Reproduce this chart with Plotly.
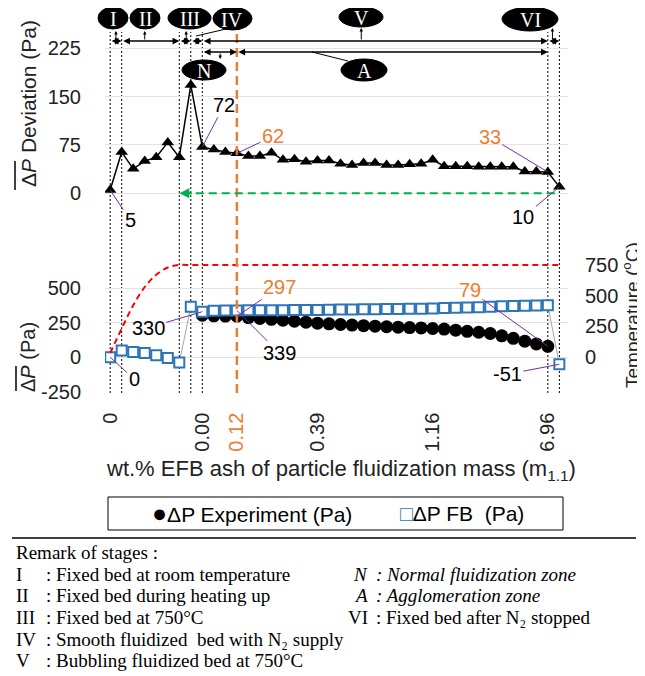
import plotly.graph_objects as go

# ---------------- data ----------------
idx = list(range(40))
tick_idx = [0, 8, 11, 18, 28, 38]
tick_txt = ["0", "0.00", "<span style='color:#ED7D31'>0.12</span>", "0.39", "1.16", "6.96"]

dev = [5, 64, 38, 50, 56, 79, 56, 168, 72, 68,
       64, 62, 58, 58, 63, 52, 53, 49, 51, 51,
       46, 44, 47, 47, 44, 44, 45, 46, 52, 42,
       42, 42, 41, 41, 41, 41, 34, 34, 33, 10]

fb = [0, 48, 38, 30, 15, -5, -39, 365, 330, 337,
      338, 339, 340, 340, 341, 341, 342, 342, 343, 344,
      345, 346, 347, 348, 349, 350, 351, 352, 354, 356,
      358, 360, 363, 366, 369, 371, 373, 375, 377, -51]

exp_idx = list(range(8, 39))
exp = [305, 300, 298, 297, 287, 281, 275, 268, 261, 254,
       247, 242, 237, 233, 229, 225, 221, 218, 215, 212,
       208, 204, 196, 188, 181, 172, 155, 137, 116, 96, 79]

temp = [30, 230, 420, 570, 670, 730] + [750] * 34

stage_bounds = [0, 1, 6, 7, 8, 38, 39]
orange_idx = 11

FONT = "Liberation Sans, Arial, sans-serif"
SERIF = "Liberation Serif, Times New Roman, serif"
OX, OY = 8, 8          # page body margin
W, H = 637, 668


def PX(x):
    return (x - OX) / W


def PY(y):
    return 1 - (y - OY) / H


fig = go.Figure()

fig.add_trace(go.Scatter(x=idx, y=dev, xaxis="x", yaxis="y", mode="lines+markers",
                         line=dict(color="black", width=1.5),
                         marker=dict(symbol="triangle-up", size=11, color="black"),
                         showlegend=False))
fig.add_trace(go.Scatter(x=exp_idx, y=exp, xaxis="x", yaxis="y2", mode="markers",
                         marker=dict(symbol="circle", size=13, color="black"),
                         name="ΔP Experiment (Pa)", showlegend=False))
fig.add_trace(go.Scatter(x=idx, y=fb, xaxis="x", yaxis="y2", mode="lines+markers",
                         line=dict(color="#A6A6A6", width=1),
                         marker=dict(symbol="square", size=10, color="white",
                                     line=dict(color="#2E75B6", width=2)),
                         name="ΔP FB (Pa)", showlegend=False))
fig.add_trace(go.Scatter(x=idx, y=temp, xaxis="x", yaxis="y3", mode="lines",
                         line=dict(color="#FF0000", width=2, dash="6px,4px", shape="spline"),
                         showlegend=False))

shapes = []
for b in stage_bounds:
    shapes.append(dict(type="line", xref="x", yref="paper", x0=b, x1=b,
                       y0=PY(393), y1=PY(32), line=dict(color="black", width=1, dash="2px,2px"),
                       layer="below"))
shapes.append(dict(type="line", xref="x", yref="paper", x0=orange_idx, x1=orange_idx,
                   y0=PY(393), y1=PY(32), line=dict(color="#ED7D31", width=2.5, dash="9px,5px")))
shapes.append(dict(type="line", xref="x", yref="y", x0=6.3, x1=39, y0=0, y1=0,
                   line=dict(color="#00B050", width=2, dash="8px,5px")))

ellipses = [("I", 98, 128, 7, 29), ("II", 130, 160, 7, 29), ("III", 168, 211, 7, 29),
            ("IV", 213, 252, 7, 30), ("V", 339, 383, 7, 27), ("VI", 502, 558, 7, 31),
            ("N", 182, 226, 60, 80), ("A", 341, 387, 59, 81)]
annotations = []
for lab, x0, x1, y0, y1 in ellipses:
    shapes.append(dict(type="circle", xref="paper", yref="paper", x0=PX(x0), x1=PX(x1),
                       y0=PY(y1), y1=PY(y0), fillcolor="black", line=dict(color="black", width=1)))
    annotations.append(dict(x=PX((x0 + x1) / 2), y=PY((y0 + y1) / 2 + 1), xref="paper", yref="paper",
                            xanchor="center", yanchor="middle",
                            text=lab, showarrow=False, font=dict(family=SERIF, size=20, color="white")))

shapes.append(dict(type="line", xref="paper", yref="paper", x0=PX(196), y0=PY(36), x1=PX(226), y1=PY(29),
                   line=dict(color="black", width=1)))
shapes.append(dict(type="line", xref="paper", yref="paper", x0=PX(312), y0=PY(52), x1=PX(348), y1=PY(61),
                   line=dict(color="black", width=1)))
shapes.append(dict(type="line", xref="paper", yref="paper", x0=PX(15), x1=PX(15), y0=PY(190), y1=PY(161),
                   line=dict(color="black", width=1.5)))
shapes.append(dict(type="line", xref="paper", yref="paper", x0=PX(16), x1=PX(16), y0=PY(391), y1=PY(366),
                   line=dict(color="black", width=1.5)))
shapes.append(dict(type="rect", xref="paper", yref="paper", x0=PX(108), x1=PX(563), y0=PY(530), y1=PY(497),
                   line=dict(color="black", width=1)))
shapes.append(dict(type="line", xref="paper", yref="paper", x0=PX(12), x1=PX(636), y0=PY(538), y1=PY(538),
                   line=dict(color="black", width=1.5)))


def dbl_arrow(a, b, py):
    annotations.append(dict(x=b, y=PY(py), xref="x", yref="paper", ax=a, ay=0, axref="x", ayref="pixel",
                            text="", showarrow=True, arrowside="end+start", arrowhead=2,
                            arrowsize=0.9, arrowwidth=1.5, arrowcolor="black"))


def v_arrow(xi, y_head, y_tail):
    annotations.append(dict(x=xi, y=PY(y_head), xref="x", yref="paper", ax=0, ay=y_tail - y_head,
                            text="", showarrow=True, arrowhead=2, arrowsize=0.7, arrowwidth=1,
                            arrowcolor="black"))


for a, b in zip(stage_bounds[:-1], stage_bounds[1:]):
    dbl_arrow(a, b, 41)
dbl_arrow(8, 11, 52)
dbl_arrow(11, 38, 52)
v_arrow(0.5, 31, 41)
v_arrow(3.0, 31, 41)
v_arrow(6.6, 31, 41)
v_arrow(21.8, 28, 41)
v_arrow(38.4, 28, 41)
v_arrow(9.55, 59, 52)

annotations.append(dict(x=6, y=0, xref="x", yref="y", ax=14, ay=0, text="", showarrow=True,
                        arrowhead=2, arrowsize=1, arrowwidth=2, arrowcolor="#00B050"))

PURPLE = "#7030A0"
ORANGE = "#ED7D31"


def label(xi, yv, yref, txt, dx, dy, color="black"):
    annotations.append(dict(x=xi, y=yv, xref="x", yref=yref, ax=dx, ay=dy, text=txt,
                            showarrow=True, arrowhead=0, arrowwidth=1, arrowcolor=PURPLE,
                            font=dict(family=FONT, size=20, color=color)))


label(0, dev[0], "y", "5", 20, 30)
label(8, dev[8], "y", "72", 22, -42)
label(11, dev[11], "y", "62", 36, -17, ORANGE)
label(38, dev[38], "y", "33", -58, -35, ORANGE)
label(39, dev[39], "y", "10", -36, 30)
label(0, fb[0], "y2", "0", 24, 22)
label(8, fb[8], "y2", "330", -54, 16)
label(11, exp[3], "y2", "297", 43, -29, ORANGE)
label(11, fb[11], "y2", "339", 43, 43)
label(38, exp[-1], "y2", "79", -78, -56, ORANGE)
label(39, fb[39], "y2", "-51", -52, 10)


def txt(x, y, s, size, family=FONT, color="#222", xa="center", angle=0, ya="middle"):
    annotations.append(dict(x=PX(x), y=PY(y), xref="paper", yref="paper", text=s, textangle=angle,
                            xanchor=xa, yanchor=ya, showarrow=False,
                            font=dict(family=family, size=size, color=color)))


txt(28, 104, "Δ<i>P</i> Deviation (Pa)", 21, angle=-90)
txt(28, 357, "Δ<i>P</i> (Pa)", 20, angle=-90)
txt(631, 315, "Temperature (<sup>o</sup>C)", 19, angle=-90)
txt(341, 470, "wt.% EFB ash of particle fluidization mass (m<sub>1.1</sub>)", 22)
txt(150, 513, "<span style='font-size:25px'>●</span>ΔP Experiment (Pa)", 21, color="black", xa="left")
txt(398, 513, "<span style='color:#2E75B6'>□</span>ΔP FB\u00a0 (Pa)", 21, color="black", xa="left")

RS = 19
txt(14, 552, "Remark of stages :", RS, SERIF, "black", "left")
left_rows = [("I", ": Fixed bed at room temperature"),
             ("II", ": Fixed bed during heating up"),
             ("III", ": Fixed bed at 750°C"),
             ("IV", ": Smooth fluidized  bed with N₂ supply"),
             ("V", ": Bubbling fluidized bed at 750°C")]
for k, (num, s) in enumerate(left_rows):
    yy = 574 + k * 21.7
    txt(14, yy, num, RS, SERIF, "black", "left")
    txt(44, yy, s, RS, SERIF, "black", "left")
right_rows = [("<i>N</i>", "<i>: Normal fluidization zone</i>"),
              ("<i>A</i>", "<i>: Agglomeration zone</i>"),
              ("VI", ": Fixed bed after N₂ stopped")]
for k, (num, s) in enumerate(right_rows):
    yy = 574 + k * 21.7
    txt(370, yy, num, RS, SERIF, "black", "right")
    txt(374, yy, s, RS, SERIF, "black", "left")

TICKF = dict(family=FONT, size=20, color="#222")
GRID = "#E3E3E3"
NOTICK = "rgba(0,0,0,0)"

fig.update_layout(
    width=W, height=H,
    margin=dict(l=0, r=0, t=0, b=0),
    paper_bgcolor="white", plot_bgcolor="rgba(0,0,0,0)",
    showlegend=False,
    xaxis=dict(domain=[PX(105), PX(568)], range=[-0.45, 39.75], anchor="y2",
               tickvals=tick_idx, ticktext=tick_txt, tickangle=-90, tickfont=TICKF,
               showgrid=False, zeroline=False, showline=False,
               ticks="outside", ticklen=12, tickcolor=NOTICK, automargin=False),
    yaxis=dict(domain=[PY(232), PY(25)], range=[-60.1, 261.2], anchor="x",
               tickvals=[0, 75, 150, 225], tickfont=TICKF, showgrid=True, gridcolor=GRID,
               zeroline=False, showline=False, ticks="outside", ticklen=19, tickcolor=NOTICK,
               automargin=False),
    yaxis2=dict(domain=[PY(391.7), PY(255)], range=[-250, 741], anchor="x",
                tickvals=[-250, 0, 250, 500], ticktext=["-250", "0", "250", "500"], tickfont=TICKF,
                showgrid=True, gridcolor=GRID, zeroline=False, showline=False,
                ticks="outside", ticklen=19, tickcolor=NOTICK, automargin=False),
    yaxis3=dict(overlaying="y2", side="right", anchor="x", range=[-286.3, 831.8],
                tickvals=[0, 250, 500, 750], tickfont=TICKF, showgrid=False, zeroline=False,
                showline=False, ticks="outside", ticklen=12, tickcolor=NOTICK, automargin=False),
    shapes=shapes,
    annotations=annotations,
)

fig.write_html("out.html")
